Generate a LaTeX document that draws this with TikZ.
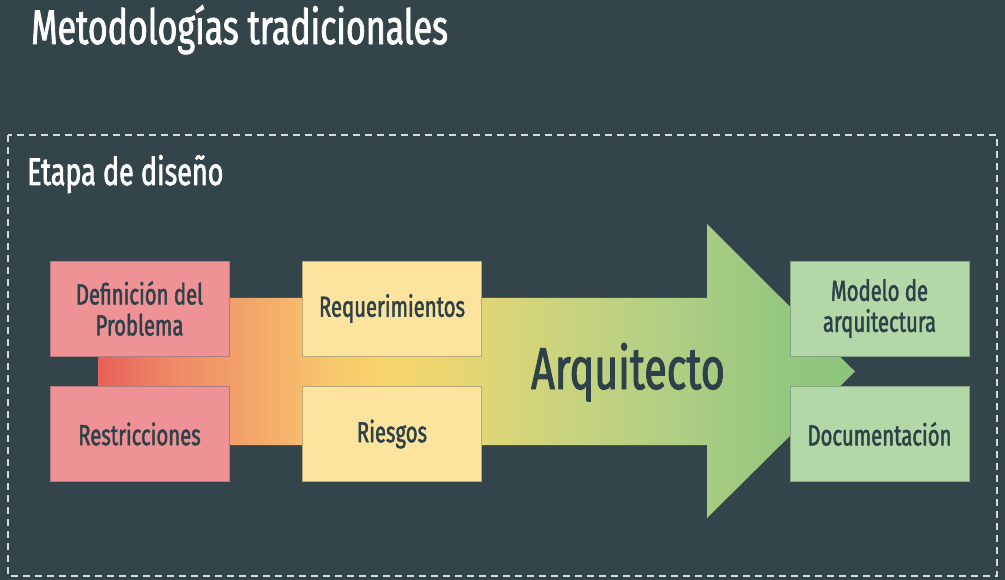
\documentclass[tikz,border=0pt]{standalone}
\usepackage{fontspec}
\setmainfont{Fira Sans}[FakeStretch=0.7, FakeBold=1.6]
\usetikzlibrary{positioning}
\definecolor{bgc}{HTML}{33454B}
\definecolor{txtc}{HTML}{2E4148}
\definecolor{dashc}{HTML}{D5DADA}
\definecolor{pinkc}{HTML}{EE9296}
\definecolor{pinkb}{HTML}{B27C7E}
\definecolor{yelc}{HTML}{FCE39E}
\definecolor{yelb}{HTML}{B8A878}
\definecolor{grnc}{HTML}{B1D8A6}
\definecolor{grnb}{HTML}{89A684}
\definecolor{g0}{HTML}{E8605A}
\definecolor{g1}{HTML}{EE8A66}
\definecolor{g2}{HTML}{F3A86A}
\definecolor{g3}{HTML}{F8C86C}
\definecolor{g4}{HTML}{F8D46B}
\definecolor{g5}{HTML}{E2D674}
\definecolor{g6}{HTML}{C8D37E}
\definecolor{g7}{HTML}{B2CF84}
\definecolor{g8}{HTML}{99C87F}
\definecolor{g9}{HTML}{8AC47B}
\pgfdeclarehorizontalshading{arrowgrad}{100bp}{color(0bp)=(g0); color(25bp)=(g0); color(30bp)=(g1); color(35.5bp)=(g2); color(40.5bp)=(g3); color(44bp)=(g4); color(50bp)=(g5); color(56bp)=(g6); color(62.5bp)=(g7); color(69bp)=(g8); color(75bp)=(g9); color(100bp)=(g9)}
\tikzset{
  stagebox/.style={draw, line width=0.8pt, minimum width=179pt, minimum height=95pt,
    inner sep=2pt, align=center, text=txtc, font=\fontsize{29}{31}\selectfont},
  pinkbox/.style={stagebox, fill=pinkc, draw=pinkb},
  yelbox/.style={stagebox, fill=yelc, draw=yelb},
  grnbox/.style={stagebox, fill=grnc, draw=grnb},
}
\begin{document}
\begin{tikzpicture}[x=1pt, y=-1pt]
\fill[bgc] (0,0) rectangle (1005,580);
\useasboundingbox (0,0) rectangle (1005,580);
% title
\node[anchor=base west, text=white, inner sep=0pt, font=\fontsize{48.5}{50}\selectfont] (title) at (31,44) {Metodologías tradicionales};
% dashed frame
\draw[dashc, line width=1.6pt, dash pattern=on 7pt off 5pt] (8,135) rectangle (997,576);
\node[anchor=base west, text=white, inner sep=0pt, font=\fontsize{38.5}{40}\selectfont] (etapa) at (27,185) {Etapa de diseño};
% arrow
\shade[shading=arrowgrad] (98,298) -- (707,298) -- (707,224) -- (855,371.5) -- (707,518) -- (707,445) -- (98,445) -- cycle;
\node[anchor=base, text=txtc, inner sep=0pt, font=\fontsize{59}{60}\selectfont] (arq) at (628,389) {Arquitecto};
% boxes
\node[pinkbox] (def) at (139.5,308.5) {Definición del\\Problema};
\node[pinkbox] (res) at (139.5,434) {Restricciones};
\node[yelbox] (req) at (392,308.5) {Requerimientos};
\node[yelbox] (rie) at (392,434) {Riesgos};
\node[grnbox] (mod) at (879.5,308.5) {Modelo de\\arquitectura};
\node[grnbox] (doc) at (879.5,434) {Documentación};
\end{tikzpicture}
\end{document}
